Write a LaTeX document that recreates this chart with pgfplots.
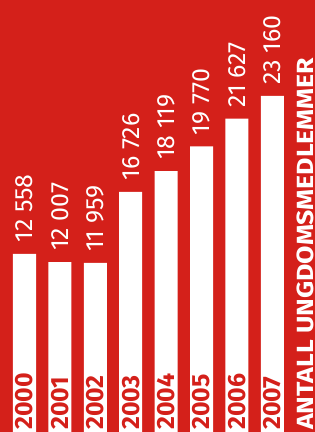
\documentclass[border=0pt]{standalone}
\usepackage{pgfplots}
\pgfplotsset{compat=1.18}
\usepackage{fontspec}
\setmainfont{Fira Sans}
\definecolor{bgred}{RGB}{212,32,26}
\begin{document}
\begin{tikzpicture}
\fill[bgred] (0,0) rectangle (315bp,432bp);
\begin{axis}[
  name=ax,
  at={(0,0)}, anchor=south west,
  scale only axis,
  width=315bp, height=432bp,
  xmin=-0.692, xmax=8.206,
  ymin=604, ymax=29597,
  hide axis,
  ybar, bar width=0.65,
  point meta=explicit symbolic,
  nodes near coords,
  every node near coord/.append style={rotate=90, anchor=west, inner xsep=11bp, inner ysep=0pt, text=white, font=\fontsize{25}{25}\selectfont},
]
\addplot[fill=white, draw=none, bar shift=0pt] coordinates {
(0,12558) [12 558]
(1,12007) [12 007]
(2,11959) [11 959]
(3,16726) [16 726]
(4,18119) [18 119]
(5,19770) [19 770]
(6,21627) [21 627]
(7,23160) [23 160]
};
\foreach \i/\y in {0/2000,1/2001,2/2002,3/2003,4/2004,5/2005,6/2006,7/2007}{
  \edef\tmp{\noexpand\node[rotate=90, anchor=west, inner xsep=2bp, inner ysep=0pt, text=bgred, font=\noexpand\fontsize{25}{25}\noexpand\selectfont\noexpand\bfseries] at (axis cs:\i,604) {\y};}
  \tmp
}
\end{axis}
\node[rotate=90, anchor=west, inner xsep=2bp, inner ysep=0pt, text=white, font=\fontsize{23.5}{24}\selectfont\bfseries] at (305.5bp,0bp) {\scalebox{1.14}[1]{ANTALL UNGDOMSMEDLEMMER}};
\pgfresetboundingbox
\path (0,0) rectangle (315bp,432bp);
\end{tikzpicture}
\end{document}
